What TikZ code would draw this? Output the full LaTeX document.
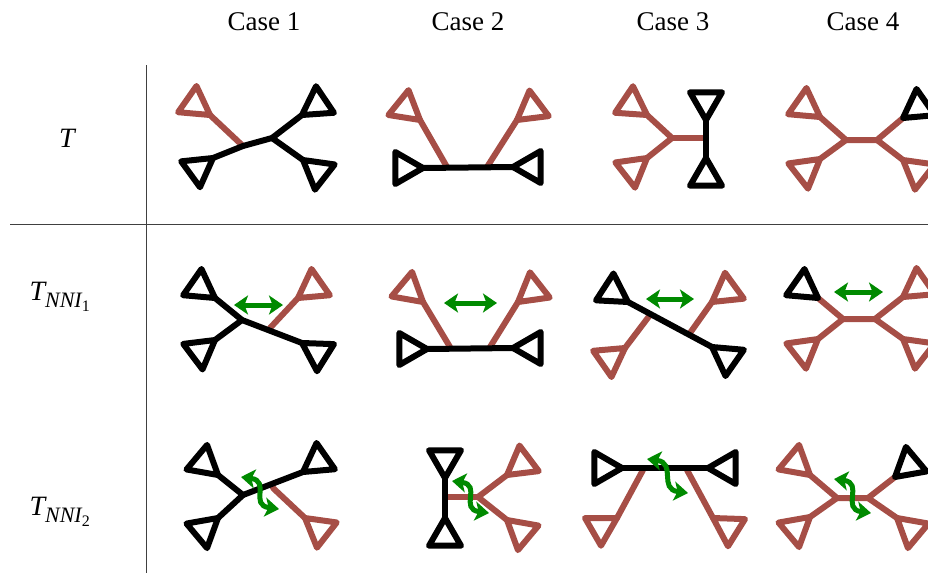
\documentclass[tikz,border=0pt]{standalone}
\usepackage{fontspec}
\setmainfont{Liberation Serif}
\newfontfamily\labelfont{Liberation Serif}
\usetikzlibrary{arrows.meta}
\definecolor{treered}{RGB}{166,78,70}
\definecolor{swapgreen}{RGB}{0,138,0}
\tikzset{
  edge/.style={line width=6pt, line join=round, line cap=round},
  blk/.style={edge, draw=black},
  rd/.style={edge, draw=treered},
  swap/.style={line width=5pt, draw=swapgreen,
    {Stealth[length=14pt,width=19pt,inset=3.5pt]}-{Stealth[length=14pt,width=19pt,inset=3.5pt]}},
  grid/.style={line width=1pt, draw=black!75},
  head/.style={font=\labelfont\fontsize{27}{30}\selectfont},
  rowlab/.style={font=\labelfont\fontsize{28}{30}\selectfont\itshape},
}
% leaf subtree: a triangle hanging from the point #1, opening in direction #2
\newcommand\leaf[3]{\draw[#3] (#1) -- +(#2+30:32) -- +(#2-30:32) -- cycle;}
% S-shaped double arrow marking an exchange
\newcommand\wavy[2]{\draw[swap] (#1) .. controls +(30,4) and +(-30,-4) .. (#2);}
\begin{document}
\begin{tikzpicture}[x=1pt,y=-1pt]
\useasboundingbox (0,0) rectangle (928,573);
\clip (0,0) rectangle (928,573);

% table frame
\draw[grid] (146,65) -- (146,573);
\draw[grid] (10,224) -- (928,224);

% column headings
\node[head] (h1) at (264,22) {Case 1};
\node[head] (h2) at (468,22) {Case 2};
\node[head] (h3) at (673,22) {Case 3};
\node[head] (h4) at (863,22) {Case 4};

% row labels
\node[rowlab] (rT) at (67,138) {T};
\node[rowlab,anchor=west] (rN1) at (26,297) {T\raisebox{-7pt}{\fontsize{22}{24}\selectfont NNI\raisebox{-4pt}{\upshape\fontsize{16}{17}\selectfont 1}}};
\node[rowlab,anchor=west] (rN2) at (26,512) {T\raisebox{-7pt}{\fontsize{22}{24}\selectfont NNI\raisebox{-4pt}{\upshape\fontsize{16}{17}\selectfont 2}}};

%%%%%%%%%%%% row T %%%%%%%%%%%%
% Case 1
\coordinate (a1) at (210,115); \coordinate (b1) at (213,158);
\coordinate (c1) at (302,115); \coordinate (d1) at (303,160);
\coordinate (j1) at (243,146); \coordinate (k1) at (272,138);
\draw[rd] (a1) -- (j1);
\draw[blk] (b1) -- (j1) -- (k1) -- (c1);
\draw[blk] (k1) -- (d1);
\leaf{a1}{-145}{rd} \leaf{b1}{144}{blk} \leaf{c1}{-34}{blk} \leaf{d1}{38}{blk}

% Case 2
\coordinate (a2) at (420,120); \coordinate (p2) at (447,167);
\coordinate (c2) at (517,120); \coordinate (q2) at (487,167);
\coordinate (b2) at (423,168); \coordinate (d2) at (513,167);
\draw[rd] (a2) -- (p2);
\draw[rd] (c2) -- (q2);
\draw[blk] (b2) -- (d2);
\leaf{a2}{-141}{rd} \leaf{c2}{-37}{rd} \leaf{b2}{180}{blk} \leaf{d2}{0}{blk}

% Case 3
\coordinate (a3) at (647,115); \coordinate (b3) at (647,158);
\coordinate (j3) at (672,138); \coordinate (k3) at (706,138);
\coordinate (c3) at (706,120); \coordinate (d3) at (706,158);
\draw[rd] (a3) -- (j3) -- (b3);
\draw[rd] (j3) -- (k3);
\draw[blk] (c3) -- (d3);
\leaf{a3}{-146}{rd} \leaf{b3}{142}{rd} \leaf{c3}{-90}{blk} \leaf{d3}{90}{blk}

% Case 4
\coordinate (a4) at (820,117); \coordinate (b4) at (820,159);
\coordinate (j4) at (846,140); \coordinate (k4) at (877,140);
\coordinate (c4) at (903,118); \coordinate (d4) at (903,160);
\draw[rd] (a4) -- (j4) -- (b4);
\draw[rd] (j4) -- (k4) -- (c4);
\draw[rd] (k4) -- (d4);
\leaf{a4}{-145}{rd} \leaf{b4}{142}{rd} \leaf{c4}{-35}{blk} \leaf{d4}{38}{rd}

%%%%%%%%%%%% row T_NNI1 %%%%%%%%%%%%
% Case 1
\coordinate (a5) at (215,298); \coordinate (b5) at (215,340);
\coordinate (j5) at (242,320); \coordinate (c5) at (298,298);
\coordinate (r5) at (270,328); \coordinate (d5) at (302,343);
\draw[rd] (c5) -- (r5);
\draw[blk] (a5) -- (j5) -- (d5);
\draw[blk] (b5) -- (j5);
\leaf{a5}{-145}{blk} \leaf{b5}{143}{blk} \leaf{c5}{-35}{rd} \leaf{d5}{32}{blk}
\coordinate (g5a) at (234,305); \coordinate (g5b) at (283,305);
\draw[swap] (g5a) -- (g5b);

% Case 2
\coordinate (a6) at (423,302); \coordinate (p6) at (450,347);
\coordinate (c6) at (518,302); \coordinate (q6) at (490,347);
\coordinate (b6) at (427,349); \coordinate (d6) at (513,348);
\draw[rd] (a6) -- (p6);
\draw[rd] (c6) -- (q6);
\draw[blk] (b6) -- (d6);
\leaf{a6}{-140}{rd} \leaf{c6}{-38}{rd} \leaf{b6}{180}{blk} \leaf{d6}{0}{blk}
\coordinate (g6a) at (444,303); \coordinate (g6b) at (497,303);
\draw[swap] (g6a) -- (g6b);

% Case 3
\coordinate (a7) at (628,302); \coordinate (d7) at (712,347);
\coordinate (c7) at (712,302); \coordinate (r7) at (690,333);
\coordinate (b7) at (625,348); \coordinate (s7) at (650,315);
\draw[rd] (c7) -- (r7);
\draw[rd] (b7) -- (s7);
\draw[blk] (a7) -- (d7);
\leaf{a7}{-147}{blk} \leaf{d7}{35}{blk} \leaf{c7}{-36}{rd} \leaf{b7}{145}{rd}
\coordinate (g7a) at (646,299); \coordinate (g7b) at (694,299);
\draw[swap] (g7a) -- (g7b);

% Case 4
\coordinate (a8) at (818,298); \coordinate (b8) at (818,339);
\coordinate (j8) at (843,319); \coordinate (k8) at (875,319);
\coordinate (c8) at (903,297); \coordinate (d8) at (903,339);
\draw[rd] (a8) -- (j8) -- (b8);
\draw[rd] (j8) -- (k8) -- (c8);
\draw[rd] (k8) -- (d8);
\leaf{a8}{-145}{blk} \leaf{b8}{142}{rd} \leaf{c8}{-35}{rd} \leaf{d8}{38}{rd}
\coordinate (g8a) at (834,292); \coordinate (g8b) at (883,292);
\draw[swap] (g8a) -- (g8b);

%%%%%%%%%%%% row T_NNI2 %%%%%%%%%%%%
% Case 1
\coordinate (a9) at (218,475); \coordinate (b9) at (218,518);
\coordinate (j9) at (243,495); \coordinate (c9) at (303,472);
\coordinate (r9) at (273,488); \coordinate (d9) at (305,518);
\draw[rd] (r9) -- (d9);
\draw[blk] (a9) -- (j9) -- (b9);
\draw[blk] (j9) -- (c9);
\leaf{a9}{-140}{blk} \leaf{b9}{140}{blk} \leaf{c9}{-35}{blk} \leaf{d9}{38}{rd}
\coordinate (g9a) at (241,477); \coordinate (g9b) at (279,509);
\wavy{g9a}{g9b}

% Case 2
\coordinate (c10) at (445,478); \coordinate (d10) at (445,518);
\coordinate (r10) at (445,497); \coordinate (j10) at (478,497);
\coordinate (a10) at (507,475); \coordinate (b10) at (507,520);
\draw[rd] (r10) -- (j10);
\draw[rd] (a10) -- (j10) -- (b10);
\draw[blk] (c10) -- (d10);
\leaf{c10}{-90}{blk} \leaf{d10}{90}{blk} \leaf{a10}{-37}{rd} \leaf{b10}{40}{rd}
\coordinate (g10a) at (452,481); \coordinate (g10b) at (489,513);
\wavy{g10a}{g10b}

% Case 3
\coordinate (b11) at (622,468); \coordinate (d11) at (708,468);
\coordinate (r11) at (643,470); \coordinate (a11) at (617,518);
\coordinate (s11) at (687,470); \coordinate (c11) at (713,518);
\draw[rd] (r11) -- (a11);
\draw[rd] (s11) -- (c11);
\draw[blk] (b11) -- (d11);
\leaf{b11}{180}{blk} \leaf{d11}{0}{blk} \leaf{a11}{150}{rd} \leaf{c11}{32}{rd}
\coordinate (g11a) at (647,459); \coordinate (g11b) at (688,493);
\wavy{g11a}{g11b}

% Case 4
\coordinate (a12) at (810,475); \coordinate (b12) at (810,517);
\coordinate (j12) at (837,498); \coordinate (k12) at (868,498);
\coordinate (c12) at (895,477); \coordinate (d12) at (897,518);
\draw[rd] (a12) -- (j12) -- (b12);
\draw[rd] (j12) -- (k12) -- (c12);
\draw[rd] (k12) -- (d12);
\leaf{a12}{-140}{rd} \leaf{b12}{140}{rd} \leaf{c12}{-40}{blk} \leaf{d12}{40}{rd}
\coordinate (g12a) at (834,479); \coordinate (g12b) at (871,513);
\wavy{g12a}{g12b}
\end{tikzpicture}
\end{document}
